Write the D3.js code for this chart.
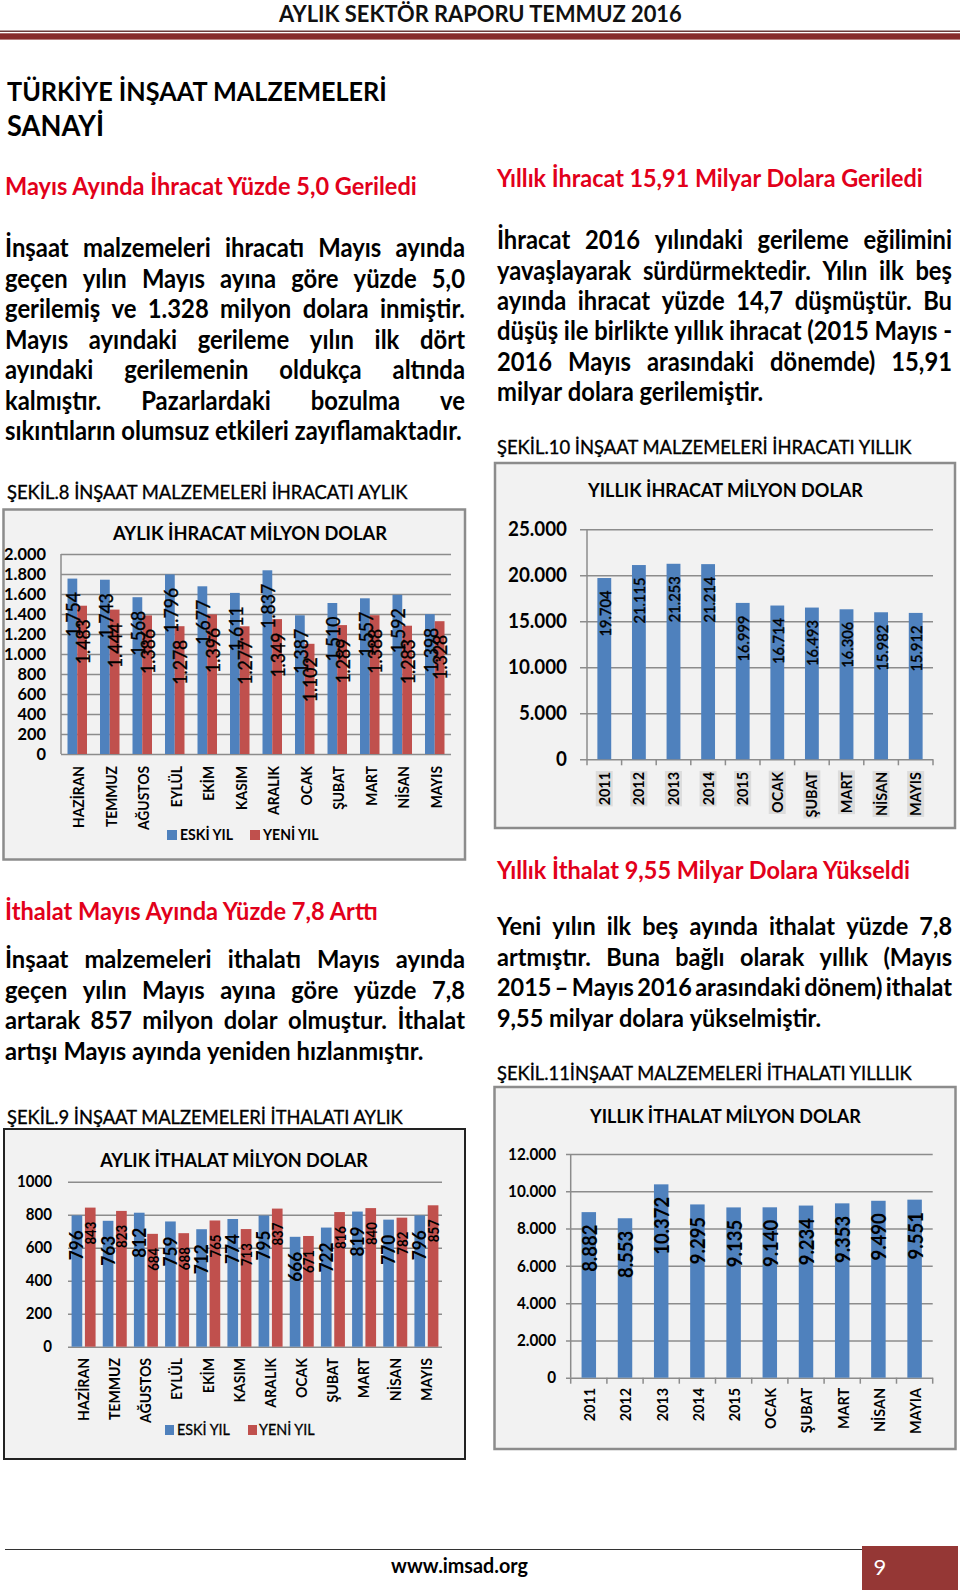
<!DOCTYPE html>
<html><head><meta charset="utf-8">
<script src="https://cdn.jsdelivr.net/npm/d3@7"></script>
<style>
html,body{margin:0;padding:0;background:#fff;}
svg{display:block;}
text{font-family:Lato,"Open Sans","Noto Sans","DejaVu Sans",sans-serif;}
</style></head><body>
<svg id="page" width="960" height="1592"></svg>
<script>
// ---------------- DATA ----------------
const months = ["HAZİRAN","TEMMUZ","AĞUSTOS","EYLÜL","EKİM","KASIM","ARALIK","OCAK","ŞUBAT","MART","NİSAN","MAYIS"];
const seriesNames = ["ESKİ YIL","YENİ YIL"];
const exportPrev = [1754,1743,1568,1796,1677,1611,1837,1387,1510,1557,1592,1398];
const exportCurr = [1483,1444,1386,1278,1396,1277,1349,1102,1289,1388,1283,1328];
const importPrev = [796,763,812,759,712,774,795,666,722,819,770,796];
const importCurr = [843,823,684,688,765,713,837,671,816,840,782,857];
const annualExportCats = ["2011","2012","2013","2014","2015","OCAK","ŞUBAT","MART","NİSAN","MAYIS"];
const annualExport = [19704,21115,21253,21214,16999,16714,16493,16306,15982,15912];
const annualImportCats = ["2011","2012","2013","2014","2015","OCAK","ŞUBAT","MART","NİSAN","MAYIA"];
const annualImport = [8882,8553,10372,9295,9135,9140,9234,9353,9490,9551];
const monthlyExportTicks = [0,200,400,600,800,1000,1200,1400,1600,1800,2000];
const monthlyImportTicks = [0,200,400,600,800,1000];
const annualExportTicks = [0,5000,10000,15000,20000,25000];
const annualImportTicks = [0,2000,4000,6000,8000,10000,12000];

const headerText = "AYLIK SEKTÖR RAPORU TEMMUZ 2016";
const titleLines = ["TÜRKİYE İNŞAAT MALZEMELERİ","SANAYİ"];
const head1 = "Mayıs Ayında İhracat Yüzde 5,0 Geriledi";
const para1 = ["İnşaat malzemeleri ihracatı Mayıs ayında","geçen yılın Mayıs ayına göre yüzde 5,0","gerilemiş ve 1.328 milyon dolara inmiştir.","Mayıs ayındaki gerileme yılın ilk dört","ayındaki gerilemenin oldukça altında","kalmıştır. Pazarlardaki bozulma ve","sıkıntıların olumsuz etkileri zayıflamaktadır."];
const head2 = "Yıllık İhracat 15,91 Milyar Dolara Geriledi";
const para2 = ["İhracat 2016 yılındaki gerileme eğilimini","yavaşlayarak sürdürmektedir. Yılın ilk beş","ayında ihracat yüzde 14,7 düşmüştür. Bu","düşüş ile birlikte yıllık ihracat (2015 Mayıs -","2016 Mayıs arasındaki dönemde) 15,91","milyar dolara gerilemiştir."];
const head3 = "İthalat Mayıs Ayında Yüzde 7,8 Arttı";
const para3 = ["İnşaat malzemeleri ithalatı Mayıs ayında","geçen yılın Mayıs ayına göre yüzde 7,8","artarak 857 milyon dolar olmuştur. İthalat","artışı Mayıs ayında yeniden hızlanmıştır."];
const head4 = "Yıllık İthalat 9,55 Milyar Dolara Yükseldi";
const para4 = ["Yeni yılın ilk beş ayında ithalat yüzde 7,8","artmıştır. Buna bağlı olarak yıllık (Mayıs","2015 – Mayıs 2016 arasındaki dönem) ithalat","9,55 milyar dolara yükselmiştir."];
const cap8 = "ŞEKİL.8 İNŞAAT MALZEMELERİ İHRACATI AYLIK";
const cap9 = "ŞEKİL.9 İNŞAAT MALZEMELERİ İTHALATI AYLIK";
const cap10 = "ŞEKİL.10 İNŞAAT MALZEMELERİ İHRACATI YILLIK";
const cap11 = "ŞEKİL.11İNŞAAT MALZEMELERİ İTHALATI YILLLIK";
const title8 = "AYLIK İHRACAT MİLYON DOLAR";
const title9 = "AYLIK İTHALAT MİLYON DOLAR";
const title10 = "YILLIK İHRACAT MİLYON DOLAR";
const title11 = "YILLIK İTHALAT MİLYON DOLAR";
const footerUrl = "www.imsad.org";
const pageNo = "9";

// ---------------- STYLE ----------------
const BLUE = "#4f81bd", RED = "#c0504d", HEADRED = "#e2001a", GRID = "#8c8c8c";
const STRETCH = 1.08;      // taller glyphs, compressed back to the measured width (Calibri-like proportions)
const trFmt = d3.formatLocale({decimal:",", thousands:".", grouping:[3], currency:["",""]}).format(",d");
const plainFmt = d3.format("d");

const svg = d3.select("#page");
const meas = svg.append("text").attr("x",-9999).attr("y",-9999);
function textWidth(str,size,weight){meas.attr("font-size",size).attr("font-weight",weight).text(str);return meas.node().getComputedTextLength();}
function fitSize(str,weight,target){return 100*target/textWidth(str,100,weight);}
function condense(t,str,size,weight){
  const w=textWidth(str,size,weight);
  t.attr("font-size",size*STRETCH).attr("textLength",w).attr("lengthAdjust","spacingAndGlyphs");
}
function fitText(str,x,y,width,weight,color,anchor,sw){
  const size=fitSize(str,weight,width);
  const t=svg.append("text").attr("x",x).attr("y",y).attr("font-weight",weight)
    .attr("fill",color||"#000").attr("text-anchor",anchor||"start").text(str);
  condense(t,str,size,weight);
  if(sw) t.attr("stroke",color||"#000").attr("stroke-width",sw);
  return t;
}
function paragraph(lines,x0,x1,y0,lh,weight,lastWidth){
  const size=fitSize(lines[lines.length-1],weight,lastWidth);
  const space=textWidth("a a",size,weight)-textWidth("aa",size,weight);
  lines.forEach((line,i)=>{
    const words=line.split(" ");
    const widths=words.map(w=>textWidth(w,size,weight));
    const total=d3.sum(widths);
    const last=i===lines.length-1;
    const gap=last?space:(x1-x0-total)/(words.length-1);
    let x=x0;
    words.forEach((w,j)=>{
      svg.append("text").attr("x",x).attr("y",y0+i*lh).attr("font-size",size*STRETCH).attr("font-weight",weight)
        .attr("fill","#000").attr("textLength",widths[j]).attr("lengthAdjust","spacingAndGlyphs").text(w);
      x+=widths[j]+gap;
    });
  });
}

// ---------------- PAGE HEADER ----------------
fitText(headerText,279,22,403,"bold","#111");
svg.append("rect").attr("x",0).attr("y",30.5).attr("width",960).attr("height",1.5).attr("fill","#6b3b3b");
svg.append("rect").attr("x",0).attr("y",33.3).attr("width",960).attr("height",6.3).attr("fill","#862b2b");
fitText(titleLines[0],7,101,380,"bold","#000");
fitText(titleLines[1],7,136,97,"bold","#000");

// ---------------- TEXT BLOCKS ----------------
fitText(head1,5,195,412,"bold",HEADRED);
paragraph(para1,5,465,257,30.5,"bold",457);
fitText(head2,497,187,426,"bold",HEADRED);
paragraph(para2,497,952,249.3,30.3,"bold",266);
fitText(head3,5,920,373,"bold",HEADRED);
paragraph(para3,5,465,968.3,30.5,"bold",418);
fitText(head4,497,879,413,"bold",HEADRED);
paragraph(para4,497,952,935.3,30.5,"bold",323);
fitText(cap8,7,499,401,"normal","#000","start",0.35);
fitText(cap10,497,454,415,"normal","#000","start",0.35);
fitText(cap9,7,1124,396,"normal","#000","start",0.35);
fitText(cap11,497,1080,415,"normal","#000","start",0.35);

// ---------------- HELPERS FOR CHARTS ----------------
function box(x,y,w,h,stroke,sw){
  svg.append("rect").attr("x",x).attr("y",y).attr("width",w).attr("height",h)
    .attr("fill","#f2f2f2").attr("stroke",stroke).attr("stroke-width",sw);
}
function yAxis(y,ticks,fmt,xAt,len,pad,labelSize){
  const g=svg.append("g").attr("transform",`translate(${xAt},0)`)
    .call(d3.axisLeft(y).tickValues(ticks).tickSize(-len).tickPadding(pad).tickFormat(fmt));
  g.select(".domain").remove();
  g.selectAll(".tick line").attr("stroke",GRID).attr("stroke-width",1.5);
  g.selectAll(".tick text").attr("font-weight","bold").attr("fill","#000")
    .attr("font-family",'Lato,"Open Sans","Noto Sans",sans-serif')
    .each(function(d){condense(d3.select(this),fmt(d),labelSize,"bold");});
  return g;
}
function rotLabel(g,str,cx,top,size,weight,bg,sw){
  const lg=g.append("g").attr("transform",`translate(${cx},${top}) rotate(-90)`);
  const t=lg.append("text").attr("text-anchor","end").attr("dy","0.35em")
    .attr("font-weight",weight).attr("fill","#000").text(str);
  condense(t,str,size,weight);
  if(sw) t.attr("stroke","#000").attr("stroke-width",sw);
  if(bg){const b=t.node().getBBox();lg.insert("rect","text").attr("x",b.x-1).attr("y",b.y+1).attr("width",b.width+2).attr("height",b.height-1).attr("fill",bg);}
}

// ================= CHART 8: monthly exports =================
(function(){
  box(3.5,509.5,461.5,350,"#8c8c8c",2.5);
  fitText(title8,250,540,274,"bold","#000","middle");
  const x=d3.scaleBand().domain(months).range([61,451]);
  const xs=d3.scaleBand().domain(seriesNames).range([x.bandwidth()*0.2,x.bandwidth()*0.8]);
  const y=d3.scaleLinear().domain([0,2000]).range([754,554]);
  yAxis(y,monthlyExportTicks,trFmt,61,390,15,fitSize("2.000","bold",42));
  svg.append("line").attr("x1",61).attr("x2",61).attr("y1",y(2000)).attr("y2",y(0)).attr("stroke",GRID).attr("stroke-width",1.5);
  const g=svg.append("g");
  const rows=months.map((m,i)=>({m,vals:[exportPrev[i],exportCurr[i]]}));
  const lab=fitSize("1.754","normal",45);
  rows.forEach(r=>{
    r.vals.forEach((v,k)=>{
      const bx=x(r.m)+xs(seriesNames[k]);
      g.append("rect").attr("x",bx).attr("y",y(v)).attr("width",xs.bandwidth()).attr("height",y(0)-y(v)).attr("fill",k?RED:BLUE);
    });
  });
  rows.forEach(r=>{
    r.vals.forEach((v,k)=>{
      const cx=x(r.m)+xs(seriesNames[k])+xs.bandwidth()/2+1;
      rotLabel(g,trFmt(v),cx,y(v)+13.5,lab,"normal",null,0.35);
    });
  });
  const xl=fitSize("HAZİRAN","bold",62);
  months.forEach(m=>rotLabel(g,m,x(m)+x.bandwidth()/2+1.5,766,xl,"bold"));
  const ls=fitSize("ESKİ YIL","bold",53);
  g.append("rect").attr("x",167).attr("y",830).attr("width",10).attr("height",10).attr("fill",BLUE);
  condense(g.append("text").attr("x",180).attr("y",840).attr("font-weight","bold").text(seriesNames[0]),seriesNames[0],ls,"bold");
  g.append("rect").attr("x",250).attr("y",830).attr("width",10).attr("height",10).attr("fill",RED);
  condense(g.append("text").attr("x",263).attr("y",840).attr("font-weight","bold").text(seriesNames[1]),seriesNames[1],ls,"bold");
})();

// ================= CHART 10: annual exports =================
(function(){
  box(495,463,460,365,"#8c8c8c",2.5);
  fitText(title10,725.5,497,275,"bold","#000","middle");
  const x=d3.scaleBand().domain(annualExportCats).range([587,933]).paddingInner(0.6).paddingOuter(0.3);
  const y=d3.scaleLinear().domain([0,25000]).range([759.3,529.3]);
  yAxis(y,annualExportTicks,trFmt,580,353,13,fitSize("25.000","bold",59));
  svg.append("line").attr("x1",587).attr("x2",587).attr("y1",y(25000)).attr("y2",y(0)).attr("stroke",GRID).attr("stroke-width",1.5);
  const g=svg.append("g");
  d3.range(annualExportCats.length+1).forEach(i=>{
    const tx=x.range()[0]+i*x.step();
    g.append("line").attr("x1",tx).attr("x2",tx).attr("y1",y(0)).attr("y2",y(0)+6).attr("stroke",GRID).attr("stroke-width",1.5);
  });
  const lab=fitSize("19.704","normal",46);
  annualExportCats.forEach((c,i)=>{
    const v=annualExport[i];
    g.append("rect").attr("x",x(c)).attr("y",y(v)).attr("width",x.bandwidth()).attr("height",y(0)-y(v)).attr("fill",BLUE);
  });
  annualExportCats.forEach((c,i)=>{
    const v=annualExport[i];
    rotLabel(g,trFmt(v),x(c)+x.bandwidth()/2+1,y(v)+12.5,lab,"normal",null,0.4);
  });
  const xl=fitSize("MAYIS","bold",44);
  annualExportCats.forEach(c=>rotLabel(g,c,x(c)+x.bandwidth()/2,772,xl,"bold","#dcdcdc"));
})();

// ================= CHART 9: monthly imports =================
(function(){
  box(4,1129,461,330,"#222",2);
  fitText(title9,234,1167,268,"bold","#000","middle");
  const x=d3.scaleBand().domain(months).range([68,442]);
  const xs=d3.scaleBand().domain(seriesNames).range([x.bandwidth()*0.115,x.bandwidth()*0.885]).paddingInner(0.2);
  const y=d3.scaleLinear().domain([0,1000]).range([1346.7,1181.7]);
  yAxis(y,monthlyImportTicks,plainFmt,68,374,16,fitSize("1000","bold",35));
  const g=svg.append("g");
  const rows=months.map((m,i)=>({m,vals:[importPrev[i],importCurr[i]]}));
  rows.forEach(r=>{
    r.vals.forEach((v,k)=>{
      g.append("rect").attr("x",x(r.m)+xs(seriesNames[k])).attr("y",y(v)).attr("width",xs.bandwidth()).attr("height",y(0)-y(v)).attr("fill",k?RED:BLUE);
    });
  });
  const labA=fitSize("796","bold",30), labB=fitSize("843","bold",23);
  rows.forEach(r=>{
    r.vals.forEach((v,k)=>{
      const cx=x(r.m)+xs(seriesNames[k])+xs.bandwidth()/2+(k?1:0);
      rotLabel(g,plainFmt(v),cx,y(v)+(k?14:15),k?labB:labA,"bold");
    });
  });
  const xl=fitSize("HAZİRAN","bold",63);
  months.forEach(m=>rotLabel(g,m,x(m)+x.bandwidth()/2,1358,xl,"bold"));
  const ls=fitSize("ESKİ YIL","normal",53);
  g.append("rect").attr("x",165).attr("y",1425).attr("width",9).attr("height",10).attr("fill",BLUE);
  condense(g.append("text").attr("x",177).attr("y",1435).attr("stroke","#000").attr("stroke-width",0.3).text(seriesNames[0]),seriesNames[0],ls,"normal");
  g.append("rect").attr("x",248).attr("y",1425).attr("width",9).attr("height",10).attr("fill",RED);
  condense(g.append("text").attr("x",259).attr("y",1435).attr("stroke","#000").attr("stroke-width",0.3).text(seriesNames[1]),seriesNames[1],ls,"normal");
})();

// ================= CHART 11: annual imports =================
(function(){
  box(494.5,1087,461,362,"#8c8c8c",2.5);
  fitText(title11,725.5,1122.7,271,"bold","#000","middle");
  const x=d3.scaleBand().domain(annualImportCats).range([570.7,932.7]).paddingInner(0.6).paddingOuter(0.3);
  const y=d3.scaleLinear().domain([0,12000]).range([1377.7,1154]);
  yAxis(y,annualImportTicks,trFmt,566,366.7,10,fitSize("12.000","bold",48));
  svg.append("line").attr("x1",570.7).attr("x2",570.7).attr("y1",y(12000)).attr("y2",y(0)).attr("stroke",GRID).attr("stroke-width",1.5);
  const g=svg.append("g");
  d3.range(annualImportCats.length+1).forEach(i=>{
    const tx=x.range()[0]+i*x.step();
    g.append("line").attr("x1",tx).attr("x2",tx).attr("y1",y(0)).attr("y2",y(0)+6).attr("stroke",GRID).attr("stroke-width",1.5);
  });
  annualImportCats.forEach((c,i)=>{
    const v=annualImport[i];
    g.append("rect").attr("x",x(c)).attr("y",y(v)).attr("width",x.bandwidth()).attr("height",y(0)-y(v)).attr("fill",BLUE);
  });
  const lab=fitSize("10.372","bold",58);
  annualImportCats.forEach((c,i)=>{
    const v=annualImport[i];
    rotLabel(g,trFmt(v),x(c)+x.bandwidth()/2+1,y(v)+12.5,lab,"bold");
  });
  const xl=fitSize("MAYIA","bold",46);
  annualImportCats.forEach(c=>rotLabel(g,c,x(c)+x.bandwidth()/2+1,1388,xl,"bold"));
})();

// ---------------- FOOTER ----------------
svg.append("line").attr("x1",5).attr("x2",862).attr("y1",1549.5).attr("y2",1549.5).attr("stroke","#333").attr("stroke-width",1.2);
svg.append("rect").attr("x",862).attr("y",1546).attr("width",96).attr("height",44).attr("fill","#953735");
fitText(footerUrl,459.5,1573,137,"bold","#000","middle");
svg.append("text").attr("x",880).attr("y",1575).attr("font-size",22).attr("fill","#fff").attr("text-anchor","middle").text(pageNo);
meas.remove();
</script>
</body></html>
